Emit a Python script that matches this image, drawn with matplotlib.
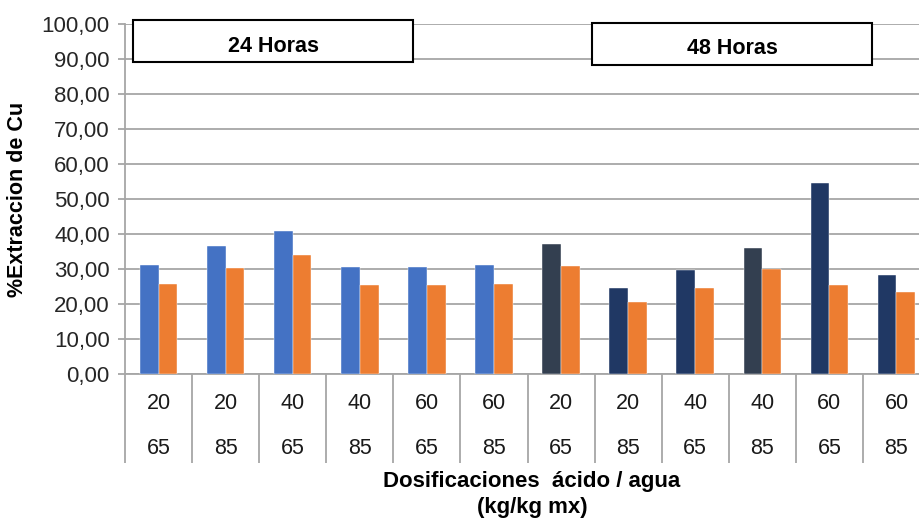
import matplotlib.pyplot as plt
import matplotlib.transforms as mtransforms
import matplotlib.ticker as mticker
from matplotlib.patches import Rectangle

plt.rcParams['font.family'] = ['Liberation Sans', 'DejaVu Sans']

# acid / water dosages (kg/kg mx) and extraction results
acido = ['20', '20', '40', '40', '60', '60', '20', '20', '40', '40', '60', '60']
agua = ['65', '85', '65', '85', '65', '85', '65', '85', '65', '85', '65', '85']
extraccion_a = [31.1, 36.6, 41.0, 30.6, 30.6, 31.2, 37.1, 24.7, 29.8, 35.9, 54.7, 28.4]
extraccion_b = [25.7, 30.3, 34.0, 25.3, 25.3, 25.8, 30.8, 20.5, 24.7, 29.9, 25.3, 23.4]
colores_a = ['#4472C4'] * 6 + ['#333F50', '#203864', '#203864', '#333F50', '#203864', '#203864']
COLOR_B = '#ED7D31'
GRIS = '#A6A6A6'

W, H = 919, 519
fig = plt.figure(figsize=(W / 100, H / 100), dpi=100, facecolor='white')
ax = fig.add_axes([125 / W, 1 - 374 / H, 805 / W, 350 / H])

x = list(range(len(acido)))
bw = 0.28
ax.bar([i - bw / 2 for i in x], extraccion_a, width=bw, color=colores_a,
       edgecolor='white', linewidth=0.3, zorder=3)
ax.bar([i + bw / 2 for i in x], extraccion_b, width=bw, color=COLOR_B,
       edgecolor='white', linewidth=0.3, zorder=3)

ax.set_xlim(-0.5, len(acido) - 0.5)
ax.set_ylim(0, 100)
ax.yaxis.set_major_locator(mticker.MultipleLocator(10))
ax.yaxis.set_major_formatter(mticker.FuncFormatter(lambda v, p: f'{v:.2f}'.replace('.', ',')))
ax.grid(axis='y', color=GRIS, linewidth=1.3, zorder=0)
for s in ['top', 'right']:
    ax.spines[s].set_visible(False)
ax.spines['left'].set_color(GRIS)
ax.spines['bottom'].set_color(GRIS)
ax.spines['left'].set_linewidth(1.3)
ax.spines['bottom'].set_linewidth(1.3)
ax.tick_params(axis='y', length=5, color=GRIS, width=1.3, pad=6, labelsize=16, labelcolor='#262626')

# category separators under the axis
ax.set_xticks([i - 0.5 for i in x] + [len(acido) - 0.5])
ax.set_xticklabels([])
ax.tick_params(axis='x', length=64, color=GRIS, width=1.3, direction='out')

trans = mtransforms.blended_transform_factory(ax.transData, ax.transAxes)
for i in x:
    ax.text(i, -0.083, acido[i], transform=trans, ha='center', va='center',
            fontsize=15.5, color='#1a1a1a')
    ax.text(i, -0.214, agua[i], transform=trans, ha='center', va='center',
            fontsize=15.5, color='#1a1a1a')

# period boxes
for x0, y0, texto in [(133, 20, '24 Horas'), (592, 23, '48 Horas')]:
    fig.patches.append(Rectangle((x0 / W, 1 - (y0 + 42) / H), 280 / W, 42 / H,
                                 transform=fig.transFigure, facecolor='white',
                                 edgecolor='black', linewidth=1.5, zorder=5))
    fig.text((x0 + 140) / W, 1 - (y0 + 26) / H, texto, ha='center', va='center',
             fontsize=15.5, fontweight='bold', zorder=6)

ax.set_ylabel('%Extraccion de Cu', fontsize=15.5, fontweight='bold')
ax.yaxis.set_label_coords(-0.121, 0.5)
fig.text(532 / W, 1 - 481 / H, 'Dosificaciones  ácido / agua', ha='center', va='center',
         fontsize=16, fontweight='bold')
fig.text(532 / W, 1 - 508 / H, '(kg/kg mx)', ha='center', va='center',
         fontsize=16, fontweight='bold')

fig.savefig('out.png', dpi=100)
